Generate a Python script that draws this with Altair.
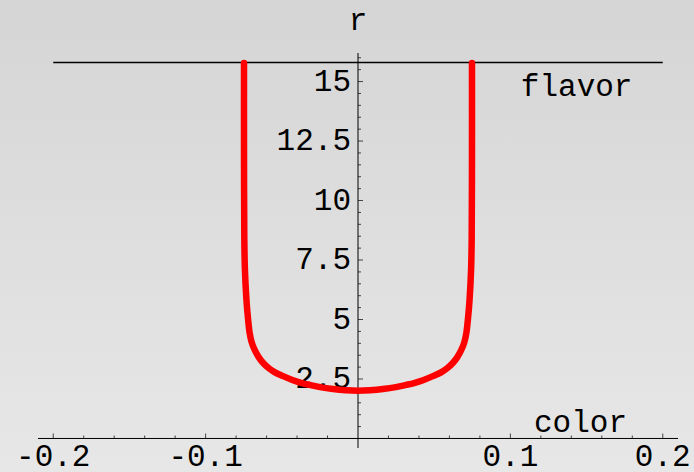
import altair as alt
import pandas as pd

# ---- data (left branch top -> bottom -> right branch top) ----
curve_x = [-0.0748, -0.0748, -0.0746, -0.0742, -0.0732, -0.0724, -0.0711, -0.0698, -0.0678,
           -0.0652, -0.0622, -0.0587, -0.0548, -0.0495, -0.0431, -0.0368, -0.0315, -0.0249,
           -0.0164, -0.0079,
           0.0,
           0.0079, 0.0164, 0.0249, 0.0315, 0.0368, 0.0431, 0.0495, 0.0548, 0.0587,
           0.0622, 0.0652, 0.0678, 0.0698, 0.0711, 0.0724, 0.0732, 0.0742, 0.0746,
           0.0748, 0.0748]
curve_r = [15.78, 12.12, 8.34, 7.08, 5.82, 5.19, 4.43, 4.05, 3.72,
           3.42, 3.17, 2.96, 2.79, 2.63, 2.46, 2.33, 2.25, 2.16,
           2.08, 2.03,
           2.01,
           2.03, 2.08, 2.16, 2.25, 2.33, 2.46, 2.63, 2.79, 2.96,
           3.17, 3.42, 3.72, 4.05, 4.43, 5.19, 5.82, 7.08, 8.34,
           12.12, 15.78]

flavor_r = 15.8
flavor_x = [-0.2, 0.2]

x_major = [-0.2, -0.1, 0.1, 0.2]
x_major_labels = ["-0.2", "-0.1", "0.1", "0.2"]
x_minor = [-0.18, -0.16, -0.14, -0.12, -0.08, -0.06, -0.04, -0.02,
           0.02, 0.04, 0.06, 0.08, 0.12, 0.14, 0.16, 0.18]
y_major = [2.5, 5, 7.5, 10, 12.5, 15]
y_major_labels = ["2.5", "5", "7.5", "10", "12.5", "15"]
y_minor = [0.5, 1, 1.5, 2, 3, 3.5, 4, 4.5, 5.5, 6, 6.5, 7, 8, 8.5, 9, 9.5,
           10.5, 11, 11.5, 12, 13, 13.5, 14, 14.5, 15.5, 16]

labels_text = ["flavor", "color", "r"]
labels_x = [0.1435, 0.146, 0.0]
labels_r = [14.4, 0.29, 17.18]

x_domain = [-0.21, 0.21]
y_domain = [-0.4, 16.2]

W, H = 640, 395
PAD = {"left": 38, "top": 53, "right": 16, "bottom": 24}
FONT = "Liberation Mono"
FS = 31

xs = alt.Scale(domain=x_domain, nice=False, zero=False)
ys = alt.Scale(domain=y_domain, nice=False, zero=False)


def X(f):
    return alt.X(f, scale=xs, axis=None)


def Y(f):
    return alt.Y(f, scale=ys, axis=None)


bg = alt.Chart(pd.DataFrame({"a": [0]})).mark_rect(
    fill=alt.Gradient(gradient="linear",
                      stops=[alt.GradientStop(color="#d5d5d5", offset=0),
                             alt.GradientStop(color="#e7e7e7", offset=1)],
                      x1=0, x2=0, y1=0, y2=1)
).encode(x=alt.value(-PAD["left"]), x2=alt.value(W + PAD["right"]),
         y=alt.value(-PAD["top"]), y2=alt.value(H + PAD["bottom"]))

axis_df = pd.DataFrame({"xa": [x_domain[0]], "xb": [x_domain[1]],
                        "ya": [y_domain[0]], "yb": [y_domain[1]], "z": [0.0]})
x_axis_line = alt.Chart(axis_df).mark_rule(color="black", strokeWidth=1).encode(
    x=X("xa:Q"), x2="xb:Q", y=Y("z:Q"))
y_axis_line = alt.Chart(axis_df).mark_rule(color="black", strokeWidth=1).encode(
    y=Y("ya:Q"), y2="yb:Q", x=X("z:Q"))

xmaj_df = pd.DataFrame({"v": x_major, "t": x_major_labels, "z": 0.0})
ymaj_df = pd.DataFrame({"v": y_major, "t": y_major_labels, "z": 0.0})

xmajor = alt.Chart(xmaj_df).mark_tick(
    orient="vertical", size=5, thickness=1, color="black", yOffset=-2.5
).encode(x=X("v:Q"), y=Y("z:Q"))
xminor = alt.Chart(pd.DataFrame({"v": x_minor, "z": 0.0})).mark_tick(
    orient="vertical", size=3, thickness=1, color="black", yOffset=-1.5
).encode(x=X("v:Q"), y=Y("z:Q"))
ymajor = alt.Chart(ymaj_df).mark_tick(
    orient="horizontal", size=5, thickness=1, color="black", xOffset=2.5
).encode(y=Y("v:Q"), x=X("z:Q"))
yminor = alt.Chart(pd.DataFrame({"v": y_minor, "z": 0.0})).mark_tick(
    orient="horizontal", size=3, thickness=1, color="black", xOffset=1.5
).encode(y=Y("v:Q"), x=X("z:Q"))

xlabels = alt.Chart(xmaj_df).mark_text(
    font=FONT, fontSize=FS, color="black", align="center", baseline="top", dy=4
).encode(x=X("v:Q"), y=Y("z:Q"), text="t:N")
ylabels = alt.Chart(ymaj_df).mark_text(
    font=FONT, fontSize=FS, color="black", align="right", baseline="middle", dx=-7
).encode(x=X("z:Q"), y=Y("v:Q"), text="t:N")

flavor = alt.Chart(pd.DataFrame({"x": [flavor_x[0]], "x2": [flavor_x[1]], "r": [flavor_r]})).mark_rule(
    color="black", strokeWidth=1.3
).encode(x=X("x:Q"), x2="x2:Q", y=Y("r:Q"))

curve_df = pd.DataFrame({"x": curve_x, "r": curve_r, "o": list(range(len(curve_x)))})
curve = alt.Chart(curve_df).mark_line(
    color="#ff0000", strokeWidth=6.5, strokeCap="round", strokeJoin="round",
    interpolate="catmull-rom"
).encode(x=X("x:Q"), y=Y("r:Q"), order="o:Q")

texts = alt.Chart(pd.DataFrame({"t": labels_text, "x": labels_x, "r": labels_r})).mark_text(
    font=FONT, fontSize=FS, color="black", align="center", baseline="alphabetic"
).encode(x=X("x:Q"), y=Y("r:Q"), text="t:N")

chart = alt.layer(bg, x_axis_line, y_axis_line, xmajor, xminor, ymajor, yminor,
                  xlabels, ylabels, flavor, curve, texts).properties(
    width=W, height=H, padding=PAD, autosize=alt.AutoSizeParams(type="none"),
    background="#dcdcdc"
).configure_view(stroke=None)

chart.save("out.html", embed_options={"renderer": "svg", "actions": False})
